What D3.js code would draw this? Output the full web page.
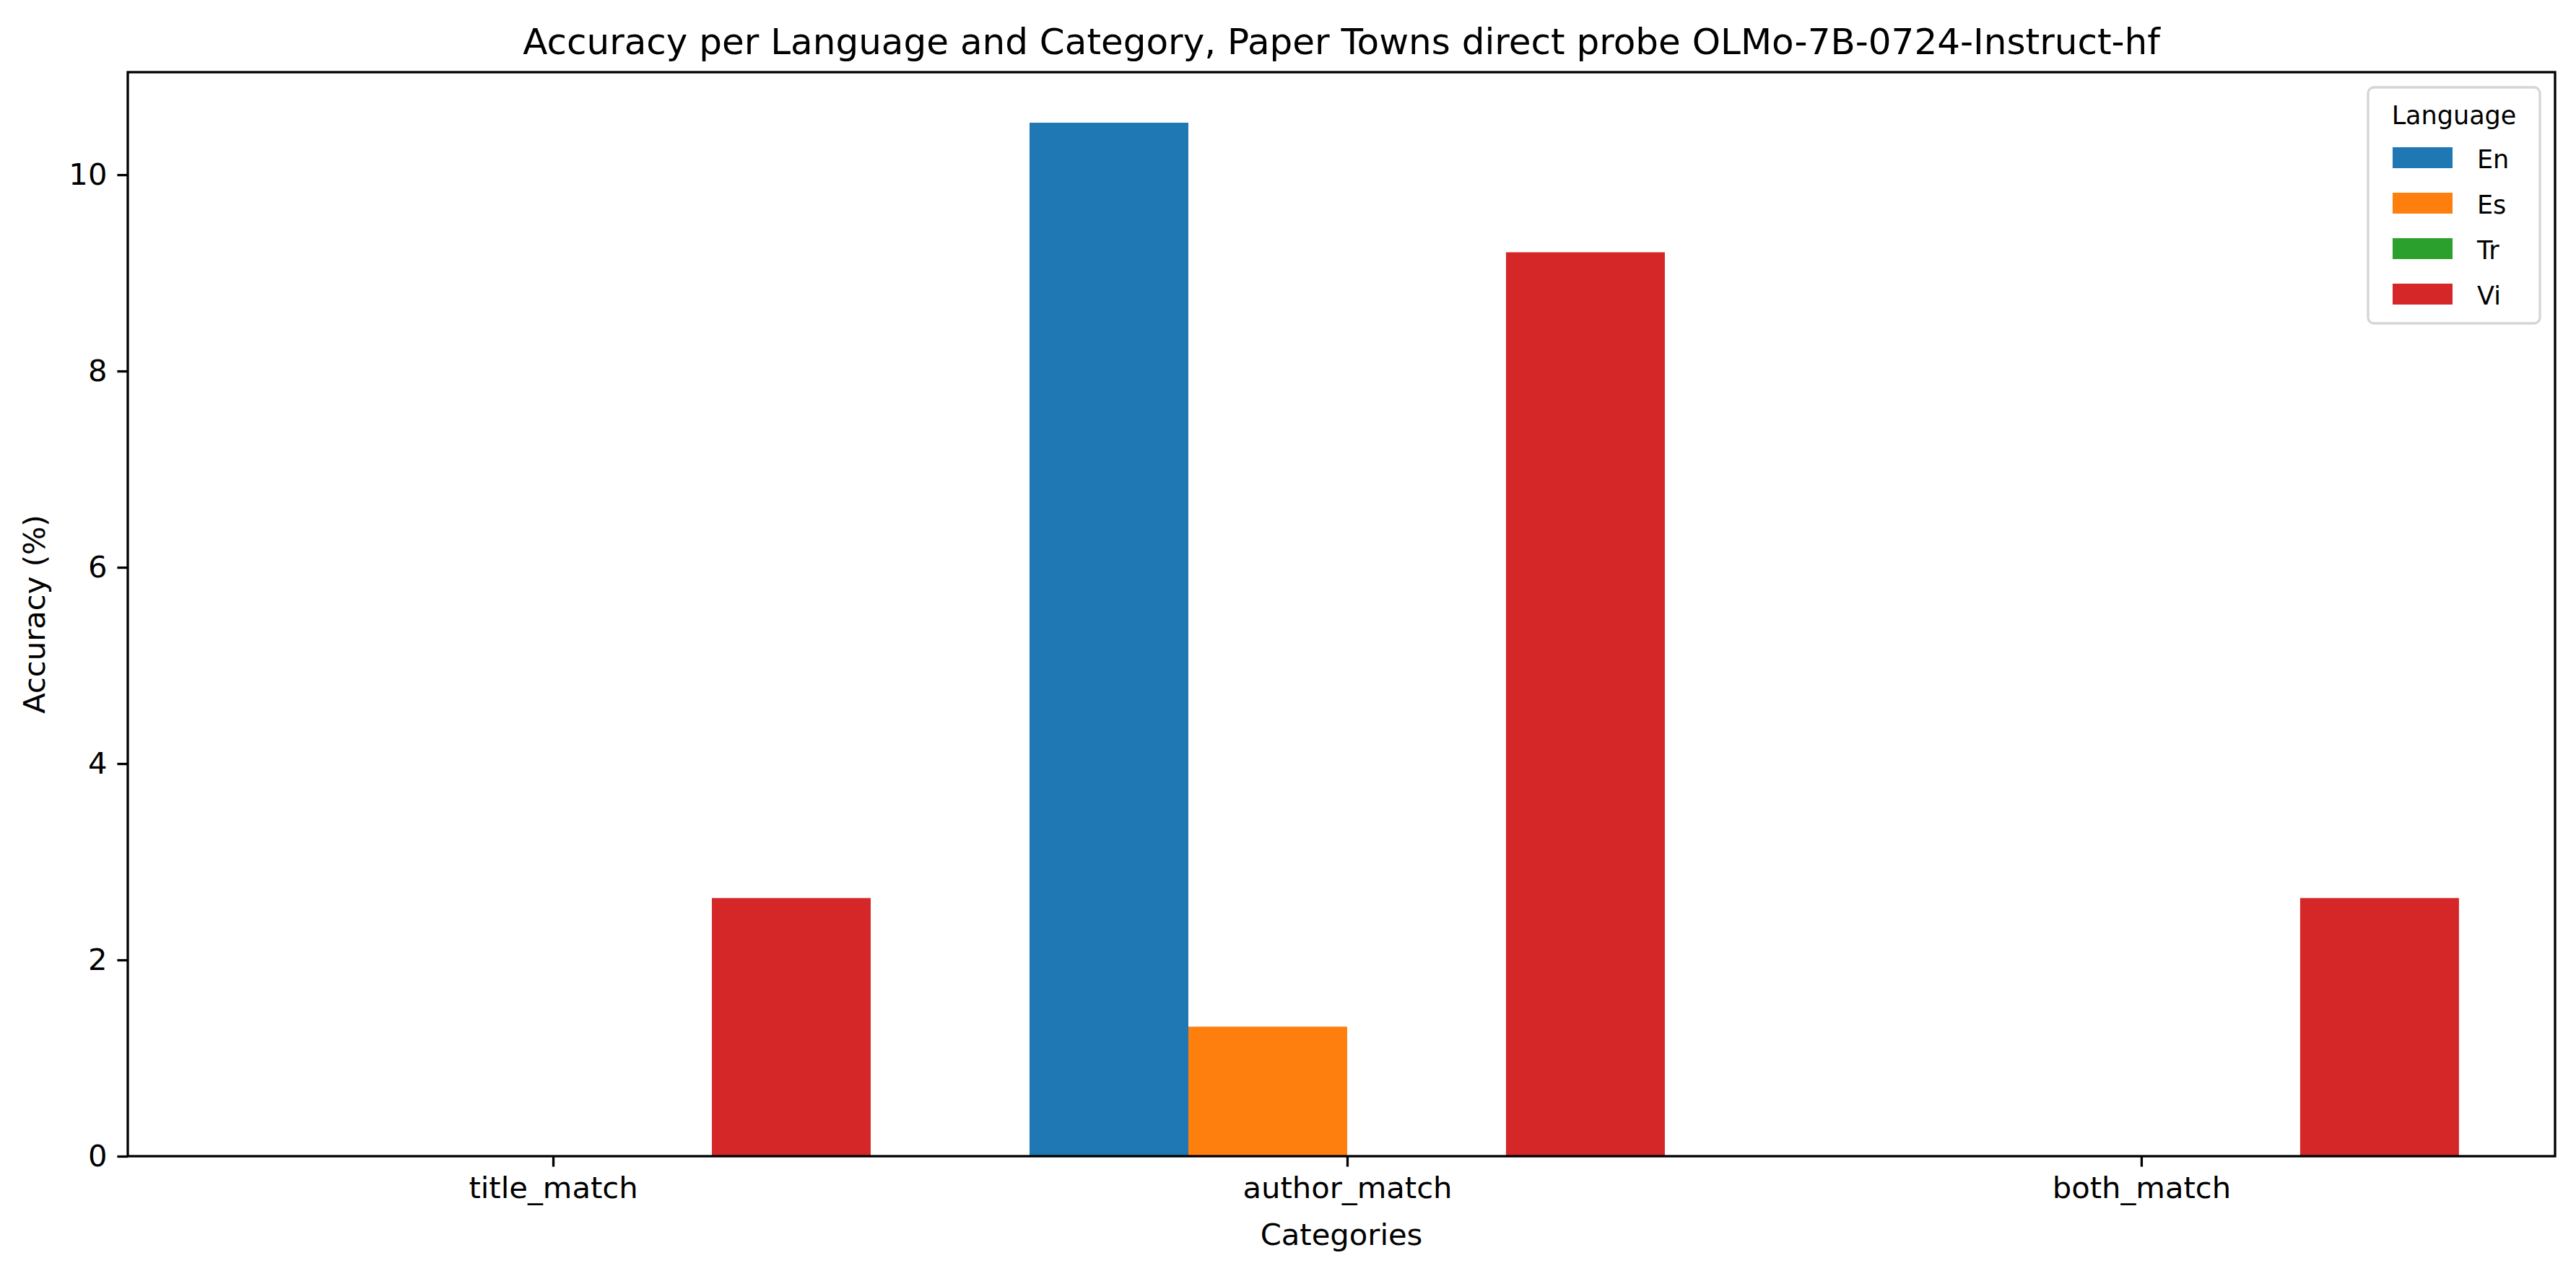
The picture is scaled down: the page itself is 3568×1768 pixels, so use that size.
<!DOCTYPE html>
<html>
<head>
<meta charset="utf-8">
<script src="https://cdn.jsdelivr.net/npm/d3@7"></script>
<style>
  body { margin: 0; background: #fff; }
  text { font-family: "DejaVu Sans", sans-serif; fill: #000; }
</style>
</head>
<body>
<script>
const categories = ["title_match", "author_match", "both_match"];
const languages = ["En", "Es", "Tr", "Vi"];
const colors = ["#1f77b4", "#ff7f0e", "#2ca02c", "#d62728"];
// accuracy (%) per language, one entry per category
const accEn = [0, 10.53, 0];
const accEs = [0, 1.32, 0];
const accTr = [0, 0, 0];
const accVi = [2.63, 9.21, 2.63];
const yTicks = [0, 2, 4, 6, 8, 10];

const series = [accEn, accEs, accTr, accVi];

const W = 3568, H = 1768;
const mLeft = 177, mRight = 3539, mTop = 100, mBottom = 1602;

const svg = d3.select("body").append("svg")
  .attr("width", W).attr("height", H);

// category positions 0..n-1, bars 0.2 wide
const x = d3.scaleLinear().domain([-0.5355, 2.521]).range([mLeft, mRight]);
const y = d3.scaleLinear().domain([0, 11.045]).range([mBottom, mTop]);
const barW = 0.2;

series.forEach((vals, li) => {
  svg.append("g").selectAll("rect")
    .data(vals)
    .join("rect")
    .attr("x", (d, i) => x(i + (li - 2) * barW))
    .attr("width", x(barW) - x(0))
    .attr("y", d => y(d))
    .attr("height", d => y(0) - y(d))
    .attr("fill", colors[li]);
});

const yAxis = svg.append("g")
  .attr("transform", `translate(${mLeft},0)`)
  .call(d3.axisLeft(y).tickValues(yTicks).tickSize(14.6).tickPadding(14).tickFormat(d3.format("d")));
const xAxis = svg.append("g")
  .attr("transform", `translate(0,${mBottom})`)
  .call(d3.axisBottom(x).tickValues([0, 1, 2]).tickSize(14.6).tickPadding(14)
    .tickFormat(i => categories[i]));
[xAxis, yAxis].forEach(a => {
  a.select(".domain").remove();
  a.selectAll("line").attr("stroke-width", 3.3);
  a.selectAll("text").style("font-size", "41.7px");
});

// frame
svg.append("rect")
  .attr("x", mLeft).attr("y", mTop)
  .attr("width", mRight - mLeft).attr("height", mBottom - mTop)
  .attr("fill", "none").attr("stroke", "#000").attr("stroke-width", 3.3);

svg.append("text").attr("x", (mLeft + mRight) / 2).attr("y", 75)
  .attr("text-anchor", "middle").style("font-size", "50px")
  .text("Accuracy per Language and Category, Paper Towns direct probe OLMo-7B-0724-Instruct-hf");
svg.append("text").attr("x", (mLeft + mRight) / 2).attr("y", 1725)
  .attr("text-anchor", "middle").style("font-size", "41.7px")
  .text("Categories");
svg.append("text")
  .attr("transform", `translate(62,${(mTop + mBottom) / 2}) rotate(-90)`)
  .attr("text-anchor", "middle").style("font-size", "41.7px")
  .text("Accuracy (%)");

// legend
const lg = svg.append("g");
lg.append("rect").attr("x", 3280).attr("y", 121).attr("width", 238).attr("height", 327)
  .attr("rx", 8).attr("fill", "#fff").attr("stroke", "#d5d5d5").attr("stroke-width", 3.3);
lg.append("text").attr("x", 3399).attr("y", 172).attr("text-anchor", "middle")
  .style("font-size", "35px").text("Language");
languages.forEach((l, i) => {
  lg.append("rect").attr("x", 3314).attr("y", 204 + i * 63)
    .attr("width", 83).attr("height", 29).attr("fill", colors[i]);
  lg.append("text").attr("x", 3431).attr("y", 233 + i * 63)
    .style("font-size", "35px").text(l);
});
</script>
</body>
</html>
